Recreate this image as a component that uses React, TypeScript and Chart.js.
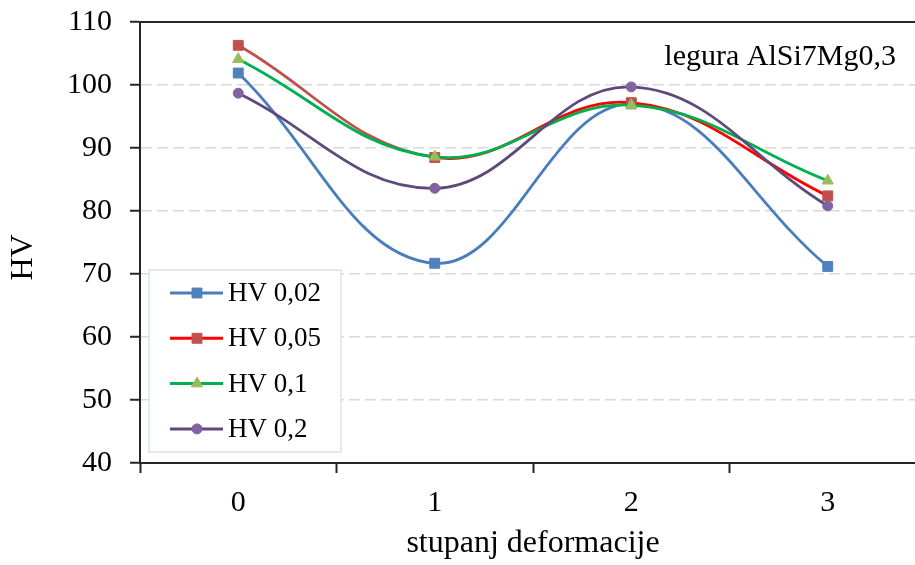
import React, { useEffect, useRef } from "react";
import { Chart, registerables } from "chart.js";

Chart.register(...registerables);

const categories = ["0", "1", "2", "3"];
const seriesNames = ["HV 0,02", "HV 0,05", "HV 0,1", "HV 0,2"];
const hv002 = [101.9, 71.7, 97.0, 71.2];
const hv005 = [106.3, 88.5, 97.2, 82.4];
const hv01 = [104.1, 88.6, 96.8, 84.8];
const hv02 = [98.7, 83.6, 99.7, 80.8];
const yTicks = { min: 40, max: 110, step: 10 };
const xTitle = "stupanj deformacije";
const yTitle = "HV";
const note = "legura AlSi7Mg0,3";

const FONT = '"Times New Roman", "Liberation Serif", serif';
const AXIS = "#262626";

function drawMarker(ctx: CanvasRenderingContext2D, style: string, x: number, y: number, r: number, fill: string) {
  ctx.save();
  ctx.fillStyle = fill;
  ctx.strokeStyle = fill;
  ctx.lineWidth = 1;
  ctx.beginPath();
  if (style === "rect") {
    const s = Math.SQRT1_2 * r;
    ctx.rect(x - s, y - s, 2 * s, 2 * s);
  } else if (style === "triangle") {
    let rad = 0;
    ctx.moveTo(x + Math.sin(rad) * r, y - Math.cos(rad) * r);
    rad += (2 * Math.PI) / 3;
    ctx.lineTo(x + Math.sin(rad) * r, y - Math.cos(rad) * r);
    rad += (2 * Math.PI) / 3;
    ctx.lineTo(x + Math.sin(rad) * r, y - Math.cos(rad) * r);
    ctx.closePath();
  } else {
    ctx.arc(x, y, r, 0, Math.PI * 2);
  }
  ctx.fill();
  ctx.stroke();
  ctx.restore();
}

const decorPlugin = {
  id: "decor",
  afterDraw(chart: any) {
    const { ctx, chartArea } = chart;
    const { left, top, bottom } = chartArea;
    ctx.save();
    // top frame line
    ctx.strokeStyle = AXIS;
    ctx.lineWidth = 2;
    ctx.beginPath();
    ctx.moveTo(left, top);
    ctx.lineTo(chart.width, top);
    ctx.stroke();

    // y title
    ctx.save();
    ctx.translate(24, (top + bottom) / 2 + 15);
    ctx.rotate(-Math.PI / 2);
    ctx.fillStyle = "#000";
    ctx.font = `32px ${FONT}`;
    ctx.textAlign = "center";
    ctx.textBaseline = "middle";
    ctx.fillText(yTitle, 0, 0);
    ctx.restore();

    // annotation
    ctx.fillStyle = "#000";
    ctx.font = `30px ${FONT}`;
    ctx.textAlign = "right";
    ctx.textBaseline = "alphabetic";
    ctx.fillText(note, 896, top + 43);

    // legend
    const bx = 149, by = 270, bw = 192, bh = 182;
    ctx.fillStyle = "#fff";
    ctx.fillRect(bx, by, bw, bh);
    ctx.strokeStyle = "#DCE3EE";
    ctx.lineWidth = 1.5;
    ctx.strokeRect(bx, by, bw, bh);
    chart.data.datasets.forEach((ds: any, i: number) => {
      const y = by + 23 + i * 45.3;
      ctx.strokeStyle = ds.legendLine;
      ctx.lineWidth = 3;
      ctx.beginPath();
      ctx.moveTo(170, y);
      ctx.lineTo(223, y);
      ctx.stroke();
      drawMarker(ctx, ds.pointStyle, 197, y, ds.pointRadius, ds.pointBackgroundColor);
      ctx.fillStyle = "#000";
      ctx.font = `27px ${FONT}`;
      ctx.textAlign = "left";
      ctx.textBaseline = "middle";
      ctx.fillText(ds.label, 228, y + 1);
    });
    ctx.restore();
  },
};

export default function App() {
  const ref = useRef<HTMLCanvasElement>(null);
  useEffect(() => {
    if (!ref.current) return;
    const mk = (label: string, data: number[], line: string, marker: string, style: string, r: number, order: number, firstSeg?: string) => ({
      label,
      data,
      borderColor: line,
      legendLine: line,
      backgroundColor: marker,
      pointBackgroundColor: marker,
      pointBorderColor: marker,
      pointBorderWidth: 1,
      pointStyle: style,
      pointRadius: r,
      borderWidth: 2.8,
      tension: 0.4,
      order,
      segment: firstSeg
        ? { borderColor: (c: any) => (c.p0DataIndex === 0 ? firstSeg : line) }
        : undefined,
    });
    const chart = new Chart(ref.current, {
      type: "line",
      data: {
        labels: categories,
        datasets: [
          mk(seriesNames[0], hv002, "#4A7EBB", "#4F81BD", "rect", 7, 3),
          mk(seriesNames[1], hv005, "#FF0000", "#C0504D", "rect", 7, 2, "#C0504D"),
          mk(seriesNames[2], hv01, "#00B050", "#9BBB59", "triangle", 6.5, 1),
          mk(seriesNames[3], hv02, "#5F497A", "#8064A2", "circle", 5, 0),
        ] as any,
      },
      options: {
        responsive: false,
        animation: false,
        devicePixelRatio: 1,
        layout: { padding: { top: 22, right: 0, left: 0, bottom: 0 } },
        plugins: { legend: { display: false }, tooltip: { enabled: false } },
        scales: {
          x: {
            offset: true,
            grid: {
              offset: true,
              drawOnChartArea: false,
              drawTicks: true,
              tickLength: 10,
              tickColor: AXIS,
              tickWidth: 2,
            },
            border: { display: true, color: AXIS, width: 2 },
            ticks: { color: "#000", font: { family: FONT, size: 30 }, padding: 12 },
            title: {
              display: true,
              text: xTitle,
              color: "#000",
              font: { family: FONT, size: 32 },
              padding: { top: 0, bottom: 2 },
            },
            afterFit: (s: any) => {
              s.height = 102;
              s.paddingLeft = 0;
              s.paddingRight = 0;
            },
          },
          y: {
            min: yTicks.min,
            max: yTicks.max,
            ticks: { stepSize: yTicks.step, color: "#000", font: { family: FONT, size: 30 }, padding: 18 },
            grid: {
              color: "#D9D9D9",
              lineWidth: 1.5,
              drawTicks: true,
              tickLength: 10,
              tickColor: AXIS,
              tickWidth: 2,
            },
            border: { display: true, color: AXIS, width: 2, dash: [11, 5] },
            afterFit: (s: any) => {
              s.width = 140;
              s.paddingTop = 0;
              s.paddingBottom = 0;
            },
          },
        },
      },
      plugins: [decorPlugin],
    });
    return () => chart.destroy();
  }, []);
  return (
    <div style={{ position: "absolute", left: 0, top: 0, width: 915, height: 565, overflow: "hidden", background: "#fff" }}>
      <canvas ref={ref} width={934} height={565} style={{ display: "block" }} />
    </div>
  );
}
